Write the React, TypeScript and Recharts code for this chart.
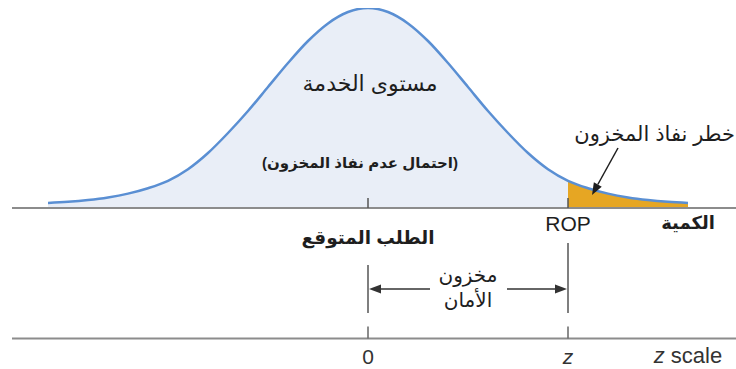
import React from "react";
import {
  Area,
  ComposedChart,
  Line,
  ReferenceDot,
  ReferenceLine,
  XAxis,
  YAxis,
} from "recharts";

// positions on the z scale
const zPoints = [
  -3.2, -3.0, -2.8, -2.6, -2.4, -2.2, -2.0, -1.8, -1.6, -1.4, -1.2, -1.0, -0.8,
  -0.6, -0.4, -0.2, 0, 0.2, 0.4, 0.6, 0.8, 1.0, 1.2, 1.4, 1.6, 1.8, 2.0, 2.2,
  2.4, 2.6, 2.8, 3.0, 3.2,
];
// curve height, % of the peak
const demandDensity = [
  2.5, 3.1, 4, 5.3, 7.2, 9.9, 13.6, 19.4, 27.5, 37.5, 48.5, 60.5, 72.5, 83.5,
  92.3, 98, 100, 98, 92.3, 83.5, 72.5, 60.5, 48.5, 37.5, 27.5, 19.4, 13.6, 9.9,
  7.2, 5.3, 4, 3.1, 2.5,
];
const ropZ = 2;
const zTicks = [0, ropZ];
const zTickLabels = ["0", "z"];

const data = zPoints.map((z, i) => ({
  z,
  density: demandDensity[i],
  risk: z >= ropZ ? demandDensity[i] : null,
}));

const FONT = "'Liberation Sans', Arial, 'DejaVu Sans', sans-serif";
const AXIS = "#8c8c8c";
const CURVE = "#5a8fd3";

function Note({ cx, cy, text, size = 17, bold = false, anchor = "middle" }: any) {
  return (
    <text
      x={cx}
      y={cy}
      textAnchor={anchor}
      dominantBaseline="central"
      fontFamily={FONT}
      fontSize={size}
      fontWeight={bold ? 700 : 400}
      fill="#1e1e1e"
    >
      {text}
    </text>
  );
}

function Arrow({ x1, y1, x2, y2, color }: any) {
  const a = Math.atan2(y2 - y1, x2 - x1);
  const len = 12;
  const w = 4.5;
  const bx = x2 - len * Math.cos(a);
  const by = y2 - len * Math.sin(a);
  const px = -Math.sin(a) * w;
  const py = Math.cos(a) * w;
  return (
    <g>
      <line x1={x1} y1={y1} x2={bx} y2={by} stroke={color} strokeWidth={1.5} />
      <polygon
        points={`${x2},${y2} ${bx + px},${by + py} ${bx - px},${by - py}`}
        fill={color}
      />
    </g>
  );
}

function ZTick({ x, y, payload }: any) {
  const i = zTicks.indexOf(payload.value);
  return (
    <g>
      <line x1={x} x2={x} y1={y - 12} y2={y} stroke="#666" strokeWidth={1.5} />
      <text
        x={x}
        y={y + 18}
        textAnchor="middle"
        dominantBaseline="central"
        fontFamily={FONT}
        fontSize={21}
        fontStyle={i === 1 ? "italic" : "normal"}
        fill="#333"
      >
        {zTickLabels[i]}
      </text>
    </g>
  );
}

const dot = (x: number, y: number, props: any) => (
  <ReferenceDot
    x={x}
    y={y}
    r={0}
    ifOverflow="visible"
    shape={(p: any) => <Note {...p} {...props} />}
  />
);

export default function App() {
  return (
    <div style={{ position: "absolute", left: 0, top: 0, background: "#fff" }}>
      <ComposedChart
        width={736}
        height={369}
        data={data}
        margin={{ top: 8, right: 0, left: 12, bottom: 0 }}
      >
        <XAxis
          dataKey="z"
          type="number"
          domain={[-3.56, 3.68]}
          allowDataOverflow
          ticks={zTicks}
          tick={<ZTick />}
          tickLine={false}
          tickSize={0}
          tickMargin={0}
          height={30.5}
          axisLine={{ stroke: AXIS, strokeWidth: 2 }}
        />
        <YAxis hide type="number" domain={[-65.25, 100]} allowDataOverflow />

        <Area
          dataKey="density"
          type="monotone"
          baseValue={0}
          stroke="none"
          fill="#e9eef7"
          fillOpacity={1}
          isAnimationActive={false}
        />
        <Area
          dataKey="risk"
          type="monotone"
          baseValue={0}
          stroke="none"
          fill="#e6a623"
          fillOpacity={1}
          isAnimationActive={false}
        />
        <Line
          dataKey="density"
          type="monotone"
          stroke={CURVE}
          strokeWidth={2.5}
          dot={false}
          isAnimationActive={false}
        />

        <ReferenceLine y={0} stroke={AXIS} strokeWidth={2} />
        <ReferenceLine segment={[{ x: 0, y: 0 }, { x: 0, y: 5 }]} stroke="#555" strokeWidth={1.5} />
        <ReferenceLine segment={[{ x: ropZ, y: 0 }, { x: ropZ, y: 5 }]} stroke="#555" strokeWidth={1.5} />
        <ReferenceLine segment={[{ x: 0, y: -28.5 }, { x: 0, y: -52.5 }]} stroke="#555" strokeWidth={1.5} ifOverflow="visible" />
        <ReferenceLine segment={[{ x: ropZ, y: -17.5 }, { x: ropZ, y: -52.5 }]} stroke="#555" strokeWidth={1.5} ifOverflow="visible" />

        <ReferenceLine
          segment={[{ x: 0.62, y: -40.5 }, { x: 0.01, y: -40.5 }]}
          shape={(p: any) => <Arrow {...p} color="#333" />}
          ifOverflow="visible"
        />
        <ReferenceLine
          segment={[{ x: 1.39, y: -40.5 }, { x: 1.99, y: -40.5 }]}
          shape={(p: any) => <Arrow {...p} color="#333" />}
          ifOverflow="visible"
        />
        <ReferenceLine
          segment={[{ x: 2.5, y: 30 }, { x: 2.24, y: 6.5 }]}
          shape={(p: any) => <Arrow {...p} color="#1e1e1e" />}
          ifOverflow="visible"
        />

        {dot(0.02, 62.5, { text: "مستوى الخدمة", size: 22 })}
        {dot(-0.08, 23, { text: "(احتمال عدم نفاذ المخزون)", size: 15, bold: true })}
        {dot(3.67, 37.5, { text: "خطر نفاذ المخزون", size: 21, anchor: "end" })}
        {dot(0, -14.5, { text: "الطلب المتوقع", size: 18.5, bold: true })}
        {dot(ropZ, -7.5, { text: "ROP", size: 21 })}
        {dot(3.2, -7.5, { text: "الكمية", size: 18, bold: true })}
        {dot(1.0, -33.5, { text: "مخزون", size: 20 })}
        {dot(1.0, -46, { text: "الأمان", size: 20 })}
        <ReferenceDot
          x={3.2}
          y={-73.5}
          r={0}
          ifOverflow="visible"
          shape={(p: any) => (
            <text
              x={p.cx}
              y={p.cy}
              textAnchor="middle"
              dominantBaseline="central"
              fontFamily={FONT}
              fontSize={22}
              fill="#333"
            >
              <tspan fontStyle="italic">z</tspan> scale
            </text>
          )}
        />
      </ComposedChart>
    </div>
  );
}
